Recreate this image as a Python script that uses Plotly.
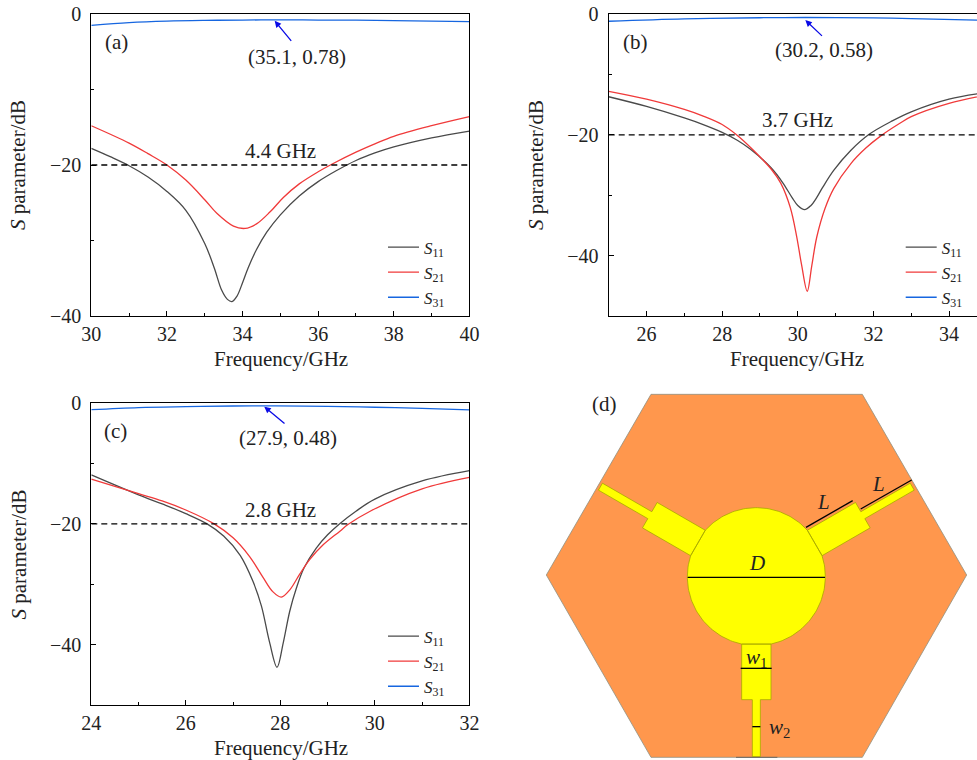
import numpy as np
import plotly.graph_objects as go

W, H = 977, 760
FONT = "Liberation Serif"
INK = "#222222"
C11, C21, C31 = "#4a4a4a", "#f03a3a", "#1666e0"

# ---------- panel (a)
a_f11 = [30, 30.5, 31, 31.5, 32, 32.5, 33, 33.25, 33.45, 33.6, 33.72, 33.85, 34, 34.15, 34.37, 34.64, 35, 35.5, 36, 36.5, 37, 37.5, 38, 39, 40]
a_s11 = [-17.8, -18.9, -20.1, -21.6, -23.5, -26, -30.4, -33.6, -36.6, -37.8, -38.1, -37.4, -35.6, -33.6, -31.2, -28.9, -26.6, -24.1, -22.2, -20.7, -19.4, -18.4, -17.6, -16.4, -15.5]
a_f21 = [30, 31, 31.5, 32, 32.5, 33, 33.32, 33.76, 34.07, 34.37, 34.73, 35.08, 35.5, 36, 36.36, 37, 37.5, 38, 39, 40]
a_s21 = [-14.8, -17.1, -18.5, -20, -22, -24.6, -26.4, -28.1, -28.4, -27.8, -26.2, -24.3, -22.5, -20.9, -19.9, -18.3, -17.2, -16.2, -14.8, -13.6]
a_f31 = [30, 31, 32, 33, 34, 35.1, 36, 37, 38, 39, 40]
a_s31 = [-1.5, -1.15, -0.95, -0.85, -0.8, -0.78, -0.8, -0.82, -0.88, -0.95, -1.0]

# ---------- panel (b)
b_f11 = [25, 26, 27, 27.5, 28, 28.4, 28.75, 29.3, 29.6, 29.85, 30, 30.18, 30.35, 30.5, 30.65, 30.95, 31.4, 31.87, 32.5, 33, 34, 35]
b_s11 = [-13.7, -15.3, -17.2, -18.3, -19.6, -20.9, -22.4, -25.5, -27.9, -30.4, -31.7, -32.4, -31.7, -30.4, -28.8, -25.9, -22.6, -20, -17.7, -16.2, -14.1, -13]
b_f21 = [25, 26, 27, 27.5, 28, 28.38, 28.8, 29.3, 29.55, 29.8, 29.97, 30.1, 30.25, 30.37, 30.5, 30.72, 30.95, 31.4, 31.8, 32.17, 32.7, 33, 34, 35]
b_s21 = [-12.8, -14.1, -15.8, -16.9, -18.3, -20, -22.4, -25.7, -28, -32, -36.8, -41.5, -45.9, -41.7, -37, -32.2, -28.9, -24.8, -22.2, -20.3, -18.1, -17, -14.8, -13.4]
b_f31 = [25, 27, 29, 30.2, 32, 33, 35]
b_s31 = [-1.2, -0.8, -0.62, -0.58, -0.65, -0.75, -1.05]

# ---------- panel (c)
c_f11 = [24, 25, 25.5, 26, 26.45, 26.8, 27.15, 27.42, 27.6, 27.77, 27.93, 28.06, 28.2, 28.34, 28.5, 28.76, 29, 29.25, 29.6, 30, 31, 32]
c_s11 = [-11.9, -15.2, -16.7, -18.3, -20, -22, -25.2, -29.5, -33.6, -39.5, -43.7, -39.7, -34.4, -30.6, -27.3, -24, -21.8, -20, -17.9, -15.9, -12.9, -11.2]
c_f21 = [24, 25, 25.5, 26, 26.6, 27, 27.35, 27.63, 27.84, 28.02, 28.2, 28.41, 28.62, 28.9, 29.26, 29.43, 29.9, 31, 32]
c_s21 = [-12.6, -15, -16.2, -17.7, -20, -22.3, -25.4, -28.8, -31.2, -32.1, -30.9, -28.3, -25.9, -23.5, -21.2, -20.1, -17.9, -14.2, -12.3]
c_f31 = [24, 25, 26, 27, 27.9, 29, 30, 31, 32]
c_s31 = [-1.1, -0.75, -0.6, -0.5, -0.48, -0.55, -0.7, -0.9, -1.15]

threshold = -20
series_names = ["<i>S</i><sub>11</sub>", "<i>S</i><sub>21</sub>", "<i>S</i><sub>31</sub>"]
y_major = [0, -20, -40]
y_major_text = ["0", "\u221220", "\u221240"]

# ---------- panel (d) schematic, in zoomed image units
hex_x = [393, 1027, 1340, 1027, 393, 79, 393]
hex_y = [43, 43, 585, 1132, 1132, 585, 43]
centre = (709, 590)
radius = 207
wide_half, narrow_half = 44, 12
wide_end, narrow_end = 369, 540
arm_angles = [90, 210, 330]  # screen degrees, y down


def patch_outline():
    xs, ys = [], []
    base = np.sqrt(radius**2 - wide_half**2)
    offs = np.arcsin(wide_half / radius)
    for i, deg in enumerate(arm_angles):
        t = np.radians(deg)
        ux, uy = np.cos(t), np.sin(t)
        px, py = -uy, ux
        local = [(base, wide_half), (wide_end, wide_half), (wide_end, narrow_half),
                 (narrow_end, narrow_half), (narrow_end, -narrow_half), (wide_end, -narrow_half),
                 (wide_end, -wide_half), (base, -wide_half)]
        for a, b in local:
            xs.append(centre[0] + a * ux + b * px)
            ys.append(centre[1] + a * uy + b * py)
        nxt = np.radians(arm_angles[(i + 1) % 3] + (360 if i == 2 else 0))
        for th in np.linspace(t + offs, nxt - offs, 50):
            xs.append(centre[0] + radius * np.cos(th))
            ys.append(centre[1] + radius * np.sin(th))
    xs.append(xs[0]); ys.append(ys[0])
    return xs, ys


fig = go.Figure()

panels = [
    ("x", "y", a_f11, a_s11, a_f21, a_s21, a_f31, a_s31, [30, 40], "legend"),
    ("x2", "y2", b_f11, b_s11, b_f21, b_s21, b_f31, b_s31, [25, 34.74], "legend2"),
    ("x3", "y3", c_f11, c_s11, c_f21, c_s21, c_f31, c_s31, [24, 32], "legend3"),
]
for xa, ya, f1, s1, f2, s2, f3, s3, rng, leg in panels:
    for f, s, c, n in [(f1, s1, C11, series_names[0]), (f2, s2, C21, series_names[1]), (f3, s3, C31, series_names[2])]:
        fig.add_trace(go.Scatter(x=f, y=s, mode="lines", name=n, xaxis=xa, yaxis=ya, legend=leg,
                                 line=dict(color=c, width=1.3, shape="spline", smoothing=1.0)))
    fig.add_trace(go.Scatter(x=rng, y=[threshold, threshold], mode="lines", xaxis=xa, yaxis=ya, showlegend=False,
                             line=dict(color="black", width=1.3, dash="6px,4px")))

hx, hy = patch_outline()
fig.add_trace(go.Scatter(x=hex_x, y=hex_y, mode="lines", fill="toself", fillcolor="#ff974d", xaxis="x4", yaxis="y4",
                         showlegend=False, line=dict(color="#8f8f80", width=0.8)))
fig.add_trace(go.Scatter(x=hx, y=hy, mode="lines", fill="toself", fillcolor="#ffff00", xaxis="x4", yaxis="y4",
                         showlegend=False, line=dict(color="#a8a800", width=0.8)))
dims = [([503, 915], [592, 592]), ([858, 998], [442, 362]), ([1022, 1175], [387, 300]),
        ([662, 755], [865, 865]), ([697, 721], [1040, 1040])]
for dx, dy in dims:
    fig.add_trace(go.Scatter(x=dx, y=dy, mode="lines", xaxis="x4", yaxis="y4", showlegend=False,
                             line=dict(color="black", width=1.3)))
fig.add_trace(go.Scatter(x=[648, 772], y=[1132, 1132], mode="lines", xaxis="x4", yaxis="y4", showlegend=False,
                         line=dict(color="#555555", width=0.8)))


def axis_common():
    return dict(showgrid=False, zeroline=False, showline=True, linecolor="black", linewidth=1.2,
                ticks="inside", ticklen=5, tickcolor="black", tickwidth=1, automargin=False,
                tickfont=dict(family=FONT, size=20, color=INK))


def xaxis(dom, rng, anchor, major, minor):
    return dict(axis_common(), domain=dom, range=rng, anchor=anchor, mirror=True, tickvals=major,
                ticktext=[str(v) for v in major],
                minor=dict(ticks="inside", ticklen=3, tickvals=minor, tickcolor="black", tickwidth=1, showgrid=False))


def yaxis(dom, rng, anchor, minor, mirror=True):
    return dict(axis_common(), domain=dom, range=rng, anchor=anchor, mirror=mirror, tickvals=y_major,
                ticktext=y_major_text, ticklabelstandoff=5,
                minor=dict(ticks="inside", ticklen=3, tickvals=minor, tickcolor="black", tickwidth=1, showgrid=False))


top = [1 - 316 / H, 1 - 14 / H]
low = [1 - 705.3 / H, 1 - 403 / H]
xa_dom = [91.3 / W, 469.4 / W]
xb_dom = [608.7 / W, 1]


def legend(px, py):
    return dict(x=px / W, y=1 - py / H, xanchor="left", yanchor="top", bgcolor="rgba(0,0,0,0)",
                font=dict(family=FONT, size=17, color=INK), itemwidth=31, tracegroupgap=0, borderwidth=0)


annots = []


def note(text, x, y, xa, ya, size=21):
    annots.append(dict(text=text, x=x, y=y, xref=xa, yref=ya, showarrow=False, xanchor="center", yanchor="middle",
                       font=dict(family=FONT, size=size, color=INK)))


def pointer(tip, tail, xa, ya):
    annots.append(dict(text="", x=tip[0], y=tip[1], ax=tail[0], ay=tail[1], xref=xa, yref=ya, axref=xa, ayref=ya,
                       showarrow=True, arrowhead=2, arrowsize=1, arrowwidth=1.3, arrowcolor="#0a0ae6"))


def axis_title(text, px, py, angle=0):
    annots.append(dict(text=text, x=px / W, y=1 - py / H, xref="paper", yref="paper", showarrow=False,
                       xanchor="center", yanchor="middle", textangle=angle,
                       font=dict(family=FONT, size=21, color=INK)))


for tx, ty in [(281, 359), (797, 359), (281, 747.5)]:
    axis_title("Frequency/GHz", tx, ty)
for tx, ty in [(18, 165), (536, 165), (18, 554.5)]:
    axis_title("<i>S</i> parameter/dB", tx, ty, -90)

note("(a)", 30.67, -3.7, "x", "y")
note("(35.1, 0.78)", 35.43, -5.7, "x", "y")
note("4.4 GHz", 35, -18.2, "x", "y")
pointer((34.85, -0.9), (35.32, -3.75), "x", "y")
note("(b)", 25.7, -4.6, "x2", "y2")
note("(30.2, 0.58)", 30.7, -5.95, "x2", "y2")
note("3.7 GHz", 30, -17.6, "x2", "y2")
pointer((30.2, -1.0), (30.68, -3.86), "x2", "y2")
note("(c)", 24.52, -4.6, "x3", "y3")
note("(27.9, 0.48)", 28.17, -5.85, "x3", "y3")
note("2.8 GHz", 28, -17.7, "x3", "y3")
pointer((27.66, -0.6), (28.12, -3.6), "x3", "y3")
note("(d)", 252, 72, "x4", "y4")
note("<i>D</i>", 710, 550, "x4", "y4")
note("<i>L</i>", 910, 365, "x4", "y4")
note("<i>L</i>", 1075, 313, "x4", "y4")
note("<i>w</i><sub>1</sub>", 708, 833, "x4", "y4")
note("<i>w</i><sub>2</sub>", 778, 1045, "x4", "y4")

fig.update_layout(
    width=W, height=H, autosize=False, margin=dict(l=0, r=0, t=0, b=0, autoexpand=False),
    paper_bgcolor="white", plot_bgcolor="rgba(0,0,0,0)",
    xaxis=xaxis(xa_dom, [30, 40], "y", [30, 32, 34, 36, 38, 40], [31, 33, 35, 37, 39]),
    yaxis=yaxis(top, [-40, 0], "x", [-10, -30]),
    xaxis2=xaxis(xb_dom, [25, 34.74], "y2", [26, 28, 30, 32, 34], [27, 29, 31, 33]),
    yaxis2=yaxis(top, [-50, 0], "x2", [-10, -30], mirror=False),
    xaxis3=xaxis(xa_dom, [24, 32], "y3", [24, 26, 28, 30, 32], [25, 27, 29, 31]),
    yaxis3=yaxis(low, [-50, 0], "x3", [-10, -30]),
    xaxis4=dict(domain=[520 / W, 1], range=[0, 1371], visible=False, anchor="y4"),
    yaxis4=dict(domain=[0, 1 - 380 / H], range=[1140, 0], visible=False, anchor="x4"),
    legend=legend(383, 229.5),
    legend2=legend(900.7, 229.5),
    legend3=legend(383, 618.5),
    annotations=annots,
    hovermode=False,
)
fig.write_html("out.html", config={"displayModeBar": False}, post_script="document.body.style.margin='0';")
